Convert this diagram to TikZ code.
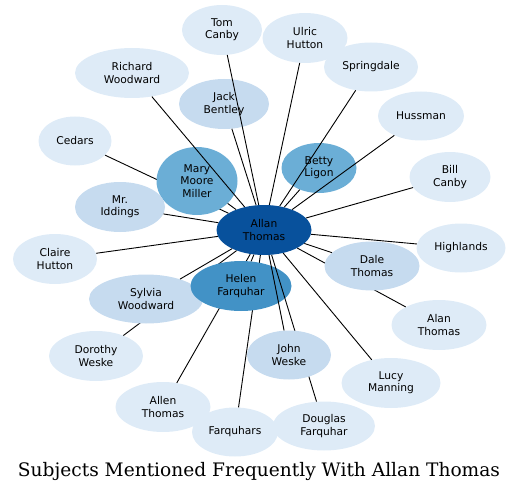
\documentclass[tikz,border=0pt]{standalone}
\usepackage{fontspec}
\usepackage{tikz}
\usetikzlibrary{shapes.geometric}
\newfontfamily\subjfont{DejaVu Sans}
\newfontfamily\titlefont{DejaVu Serif}
\definecolor{blueA}{HTML}{DEEBF7}
\definecolor{blueB}{HTML}{C6DBEF}
\definecolor{blueC}{HTML}{6BAED6}
\definecolor{blueD}{HTML}{4292C6}
\definecolor{blueE}{HTML}{08519C}

\begin{document}
\begin{tikzpicture}[x=1pt, y=-1pt,
  subject/.style={ellipse, fill=blueA, inner sep=0pt, minimum height=49pt, align=center,
    font=\subjfont\fontsize{10.7}{12.2}\selectfont},
  link/.style={black, line width=0.9pt}]
\useasboundingbox (0,0) rectangle (519,492);
\node[subject, fill=blueE, minimum width=95pt, minimum height=50pt] (allan) at (264,230) {Allan\\Thomas};
\node[subject, fill=blueB, minimum width=90pt, minimum height=50pt] (jack) at (224,104) {Jack\\Bentley};
\draw[link] (jack) -- (allan);
\node[subject, minimum width=80pt, minimum height=50pt] (tom) at (222,30) {Tom\\Canby};
\draw[link] (tom) -- (allan);
\node[subject, minimum width=85pt, minimum height=50pt] (ulric) at (305,38) {Ulric\\Hutton};
\draw[link] (ulric) -- (allan);
\node[subject, minimum width=73pt] (cedars) at (75,141) {Cedars};
\draw[link] (cedars) -- (allan);
\node[subject, fill=blueC, minimum width=81pt, minimum height=68pt] (mary) at (197,181) {Mary\\Moore\\Miller};
\draw[link] (mary) -- (allan);
\node[subject, minimum width=114pt, minimum height=50pt] (richard) at (132,73) {Richard\\Woodward};
\draw[link] (richard) -- (allan);
\node[subject, fill=blueC, minimum width=75pt, minimum height=50pt] (betty) at (319,168) {Betty\\Ligon};
\draw[link] (betty) -- (allan);
\node[subject, minimum width=94pt] (springdale) at (371,67) {Springdale};
\draw[link] (springdale) -- (allan);
\node[subject, minimum width=86pt] (hussman) at (421,116) {Hussman};
\draw[link] (hussman) -- (allan);
\node[subject, minimum width=81pt, minimum height=50pt] (bill) at (450,177) {Bill\\Canby};
\draw[link] (bill) -- (allan);
\node[subject, fill=blueB, minimum width=90pt, minimum height=50pt] (iddings) at (120,207) {Mr.\\Iddings};
\draw[link] (iddings) -- (allan);
\node[subject, minimum width=84pt, minimum height=50pt] (claire) at (55,259) {Claire\\Hutton};
\draw[link] (claire) -- (allan);
\node[subject, minimum width=89pt] (highlands) at (461,248) {Highlands};
\draw[link] (highlands) -- (allan);
\node[subject, minimum width=94pt, minimum height=50pt] (dorothy) at (96,356) {Dorothy\\Weske};
\draw[link] (dorothy) -- (allan);
\node[subject, minimum width=95pt, minimum height=50pt] (allen) at (163,407) {Allen\\Thomas};
\draw[link] (allen) -- (allan);
\node[subject, minimum width=86pt] (farquhars) at (235,432) {Farquhars};
\draw[link] (farquhars) -- (allan);
\node[subject, fill=blueB, minimum width=114pt] (sylvia) at (146,299) {Sylvia\\Woodward};
\draw[link] (sylvia) -- (allan);
\node[subject, fill=blueD, minimum width=101pt, minimum height=50pt] (helen) at (241,286) {Helen\\Farquhar};
\draw[link] (helen) -- (allan);
\node[subject, minimum width=95pt, minimum height=50pt] (alan) at (439,325) {Alan\\Thomas};
\draw[link] (alan) -- (allan);
\node[subject, fill=blueB, minimum width=95pt] (dale) at (372,266) {Dale\\Thomas};
\draw[link] (dale) -- (allan);
\node[subject, minimum width=102pt] (douglas) at (324,426) {Douglas\\Farquhar};
\draw[link] (douglas) -- (allan);
\node[subject, fill=blueB, minimum width=84pt] (john) at (289,355) {John\\Weske};
\draw[link] (john) -- (allan);
\node[subject, minimum width=99pt, minimum height=50pt] (lucy) at (391,383) {Lucy\\Manning};
\draw[link] (lucy) -- (allan);
\node[font=\titlefont\fontsize{18.6}{22}\selectfont, inner sep=0pt, anchor=base] (title) at (259,476) {Subjects Mentioned Frequently With Allan Thomas};
\end{tikzpicture}
\end{document}
